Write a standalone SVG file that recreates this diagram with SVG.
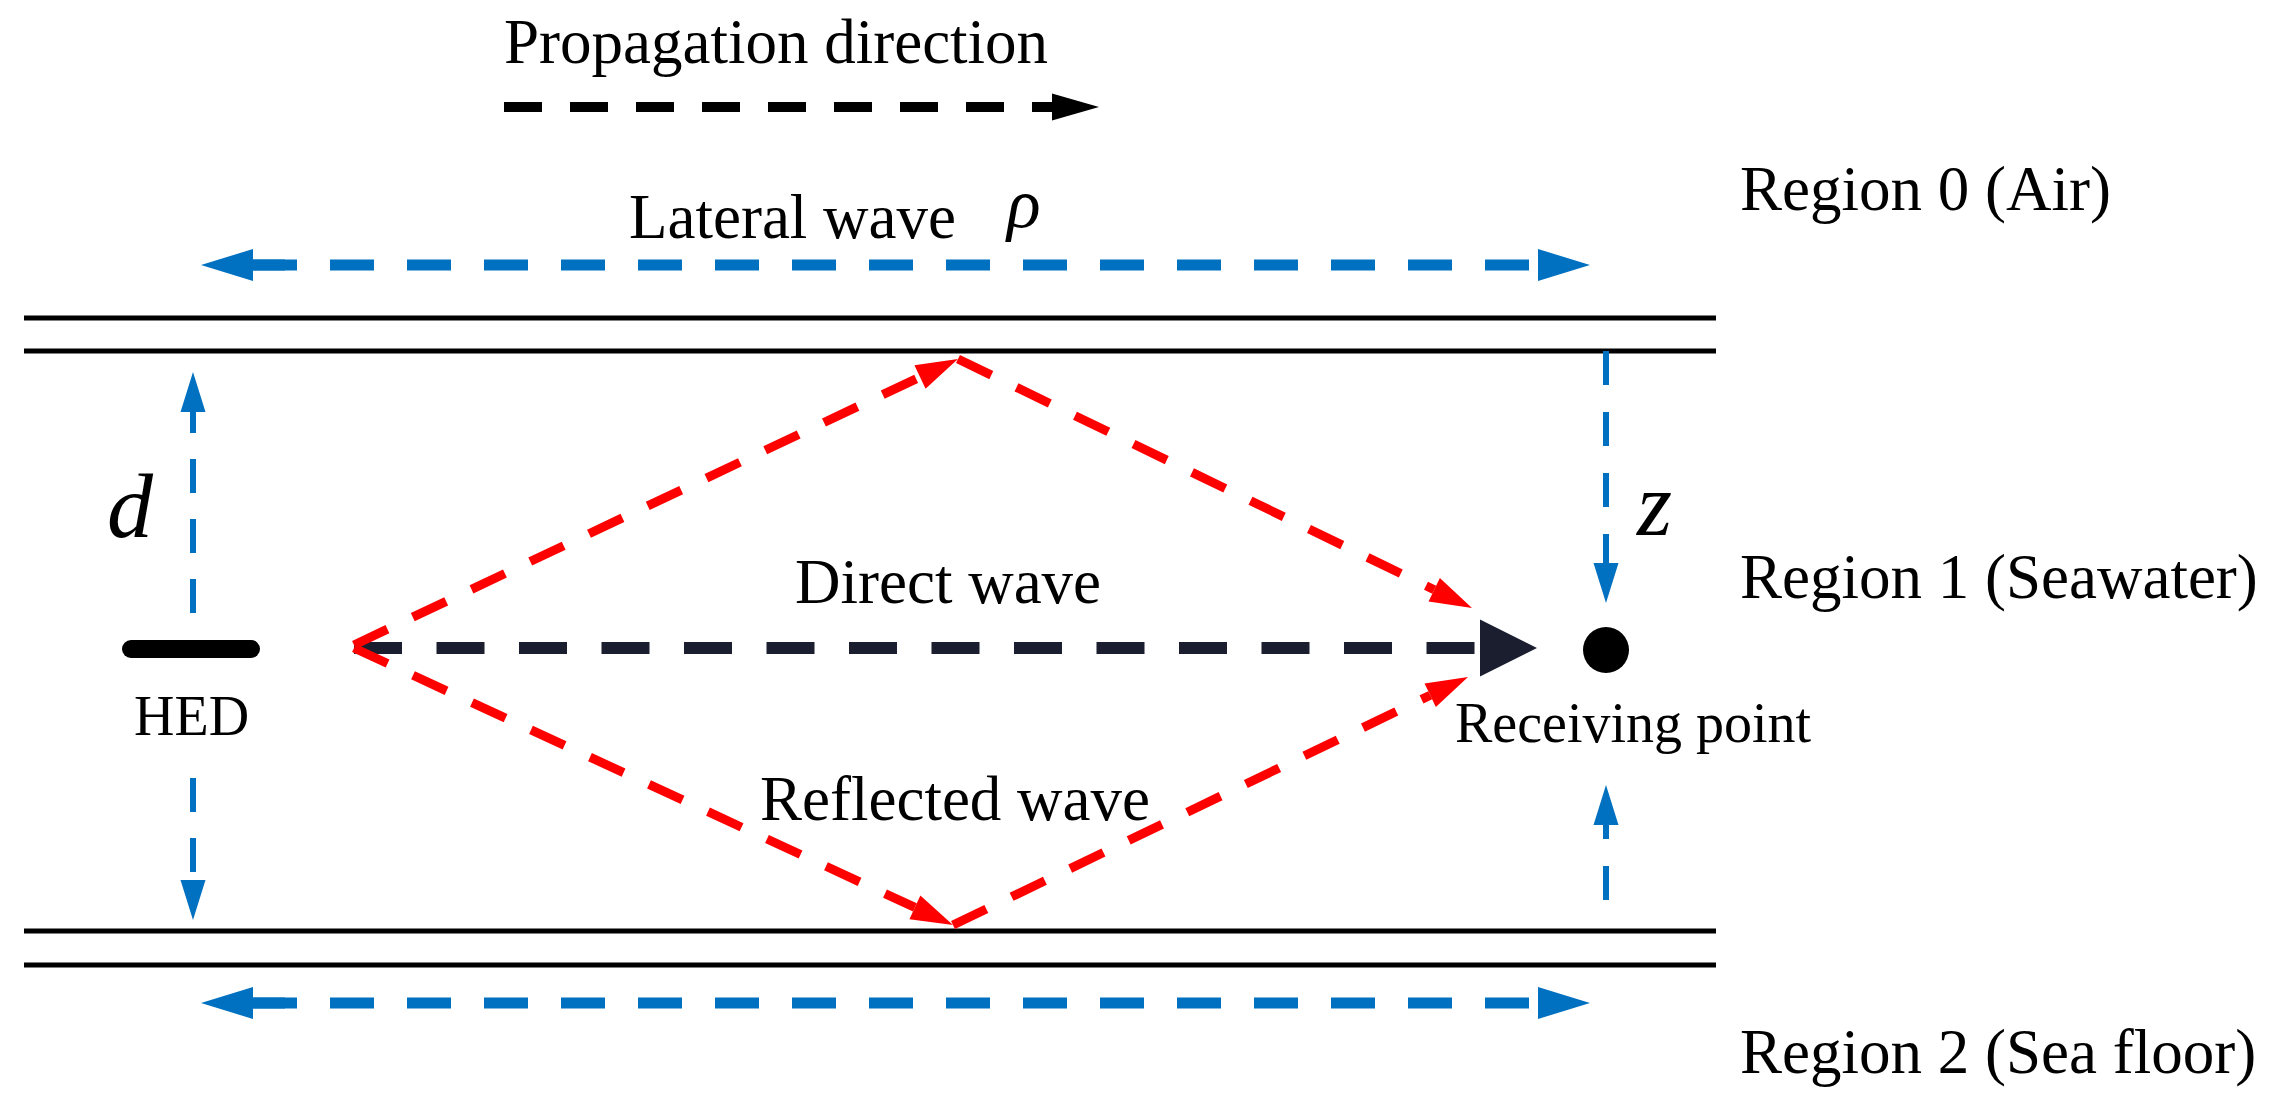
<svg xmlns="http://www.w3.org/2000/svg" width="2270" height="1102" viewBox="0 0 2270 1102">
<style>
text{font-family:"Liberation Serif","Times New Roman",serif;fill:#000}
.lbl{font-size:63px}
.sm{font-size:56px}
.it{font-style:italic}
.bound{stroke:#000;stroke-width:5;fill:none}
.blueH{stroke:#0070C0;stroke-width:11;stroke-dasharray:44 33;fill:none}
.blueV{stroke:#0070C0;stroke-width:6;fill:none}
.red{stroke:#FF0000;stroke-width:9;stroke-dasharray:37 28;fill:none}
.blk{stroke:#000;stroke-width:10;stroke-dasharray:38 28;fill:none}
.dir{stroke:#1a1e2e;stroke-width:12;stroke-dasharray:48 34.5;fill:none}
</style>
<defs>
<marker id="hBlueH" markerUnits="userSpaceOnUse" markerWidth="52" markerHeight="32" refX="0" refY="16" orient="auto-start-reverse" overflow="visible">
<path d="M0,0 L52,16 L0,32 z" fill="#0070C0"/>
</marker>
<marker id="hBlueV" markerUnits="userSpaceOnUse" markerWidth="40" markerHeight="25" refX="0" refY="12.5" orient="auto" overflow="visible">
<path d="M0,0 L40,12.5 L0,25 z" fill="#0070C0"/>
</marker>
<marker id="hRed" markerUnits="userSpaceOnUse" markerWidth="42" markerHeight="26" refX="0" refY="13" orient="auto" overflow="visible">
<path d="M0,0 L42,13 L0,26 z" fill="#FF0000"/>
</marker>
<marker id="hBlk" markerUnits="userSpaceOnUse" markerWidth="47" markerHeight="27" refX="0" refY="13.5" orient="auto" overflow="visible">
<path d="M0,0 L47,13.5 L0,27 z" fill="#000"/>
</marker>
<marker id="hDir" markerUnits="userSpaceOnUse" markerWidth="57" markerHeight="57" refX="0" refY="28.5" orient="auto" overflow="visible">
<path d="M0,0 L57,28.5 L0,57 z" fill="#1a1e2e"/>
</marker>
</defs>

<g id="boundaries">
<line class="bound" x1="24" y1="318" x2="1716" y2="318"/>
<line class="bound" x1="24" y1="351" x2="1716" y2="351"/>
<line class="bound" x1="24" y1="931" x2="1716" y2="931"/>
<line class="bound" x1="24" y1="965" x2="1716" y2="965"/>
</g>

<g id="connectors">
<!-- legend propagation arrow -->
<line class="blk" x1="504" y1="107" x2="1052" y2="107" marker-end="url(#hBlk)"/>
<!-- lateral waves -->
<line class="blueH" x1="253" y1="265" x2="1538" y2="265" stroke-dasharray="0 65 44 33" marker-start="url(#hBlueH)" marker-end="url(#hBlueH)"/>
<line class="blueH" x1="253" y1="1003" x2="1538" y2="1003" stroke-dasharray="0 65 44 33" marker-start="url(#hBlueH)" marker-end="url(#hBlueH)"/>
<!-- stubs next to lateral wave heads -->
<line stroke="#0070C0" stroke-width="11" x1="252" y1="265" x2="285" y2="265"/>
<line stroke="#0070C0" stroke-width="11" x1="252" y1="1003" x2="285" y2="1003"/>
<!-- d arrows -->
<line class="blueV" x1="193" y1="613" x2="193" y2="412" stroke-dasharray="34 26" marker-end="url(#hBlueV)"/>
<line class="blueV" x1="193" y1="778" x2="193" y2="880" stroke-dasharray="34 26" marker-end="url(#hBlueV)"/>
<!-- z arrows -->
<line class="blueV" x1="1606" y1="351" x2="1606" y2="563" stroke-dasharray="34 27" marker-end="url(#hBlueV)"/>
<line class="blueV" x1="1606" y1="900" x2="1606" y2="825" stroke-dasharray="34 27" marker-end="url(#hBlueV)"/>
<!-- direct wave -->
<line class="dir" x1="354" y1="648" x2="1480" y2="648" marker-end="url(#hDir)"/>
<!-- reflected paths (red) -->
<line class="red" x1="354" y1="645" x2="920" y2="377" marker-end="url(#hRed)"/>
<line class="red" x1="958" y1="359" x2="1434.2" y2="589.7" marker-end="url(#hRed)"/>
<line class="red" x1="354" y1="648" x2="914.9" y2="907.4" marker-end="url(#hRed)"/>
<line class="red" x1="953" y1="925" x2="1430.2" y2="695.2" marker-end="url(#hRed)"/>
</g>

<g id="node-hed">
<line x1="131" y1="649" x2="251" y2="649" stroke="#000" stroke-width="18" stroke-linecap="round"/>
<text class="sm" x="134" y="735">HED</text>
</g>

<g id="node-receiver">
<circle cx="1606" cy="650" r="23" fill="#000"/>
<text class="sm" x="1455" y="742">Receiving point</text>
</g>

<g id="labels">
<text class="lbl" x="504" y="63">Propagation direction</text>
<text class="lbl" x="629" y="238">Lateral wave</text>
<text class="it" x="1007" y="227" font-size="70">ρ</text>
<text class="lbl" x="795" y="603">Direct wave</text>
<text class="lbl" x="760" y="820">Reflected wave</text>
<text class="it" x="107" y="537" font-size="92">d</text>
<text class="it" x="1637" y="535" font-size="90">z</text>
</g>

<g id="regions">
<text class="lbl" x="1740" y="210">Region 0 (Air)</text>
<text class="lbl" x="1740" y="598">Region 1 (Seawater)</text>
<text class="lbl" x="1740" y="1073">Region 2 (Sea floor)</text>
</g>
</svg>
